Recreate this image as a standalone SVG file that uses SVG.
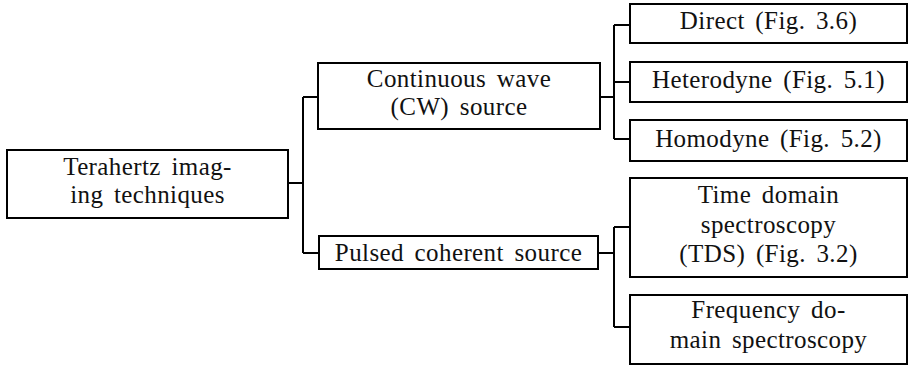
<svg xmlns="http://www.w3.org/2000/svg" width="909" height="367" viewBox="0 0 909 367">
<style>
.box{fill:#fff;stroke:#000;stroke-width:2}
.ln{fill:none;stroke:#000;stroke-width:2}
text{font-family:"Liberation Serif","DejaVu Serif",serif;font-size:25px;letter-spacing:0.4px;word-spacing:4px;fill:#111;text-anchor:middle}
</style>
<rect width="909" height="367" fill="#fff"/>
<g id="connectors">
<path class="ln" d="M288 183H303M303 97V253M303 97H318M303 253H319"/>
<path class="ln" d="M600 97H614M614 25V139M614 25H630M614 82H630M614 139H630"/>
<path class="ln" d="M598 253H614M614 227V327M614 227H630M614 327H630"/>
</g>
<g id="root"><rect class="box" x="7" y="150" width="281" height="68"/>
<text x="147.5" y="175">Terahertz imag-</text><text x="147.5" y="203">ing techniques</text></g>
<g id="cw"><rect class="box" x="318" y="63" width="282" height="66"/>
<text x="459" y="87">Continuous wave</text><text x="459" y="115">(CW) source</text></g>
<g id="pulsed"><rect class="box" x="319" y="236" width="279" height="33"/>
<text x="458.5" y="261">Pulsed coherent source</text></g>
<g id="direct"><rect class="box" x="630" y="4" width="277" height="39"/>
<text x="768.5" y="29">Direct (Fig. 3.6)</text></g>
<g id="heterodyne"><rect class="box" x="630" y="62" width="277" height="40"/>
<text x="768.5" y="88">Heterodyne (Fig. 5.1)</text></g>
<g id="homodyne"><rect class="box" x="630" y="120" width="277" height="41"/>
<text x="768.5" y="147">Homodyne (Fig. 5.2)</text></g>
<g id="tds"><rect class="box" x="630" y="178" width="277" height="99"/>
<text x="768.5" y="203">Time domain</text><text x="768.5" y="233">spectroscopy</text><text x="768.5" y="262">(TDS) (Fig. 3.2)</text></g>
<g id="fds"><rect class="box" x="630" y="295" width="277" height="69"/>
<text x="768.5" y="318">Frequency do-</text><text x="768.5" y="348">main spectroscopy</text></g>
</svg>
